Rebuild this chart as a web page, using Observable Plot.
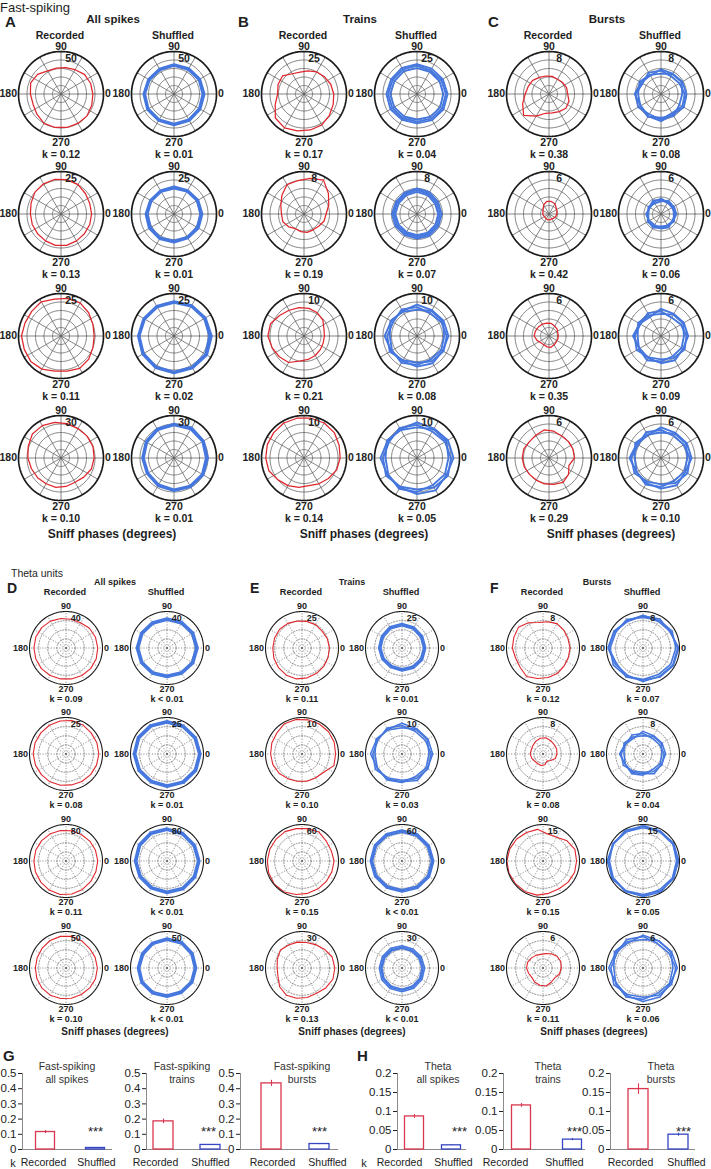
<!DOCTYPE html>
<html><head><meta charset="utf-8">
<script src="https://cdn.jsdelivr.net/npm/d3@7"></script>
<script src="https://cdn.jsdelivr.net/npm/@observablehq/plot@0.6"></script>
<style>
body{margin:0;background:#fff;}
#fig{position:relative;width:711px;height:1169px;overflow:hidden;font-family:"Liberation Sans",Arial,sans-serif;color:#1e1e1e;}
.lab{position:absolute;white-space:nowrap;line-height:1;}
</style></head><body><div id="fig"></div>
<script>
// ---------- DATA (radii relative to the outer ring, whose value is the ring label) ----------
// recorded: 18 bins, 0..340 deg step 20 ; shuffled: 3 traces x 12 bins, 0..330 step 30
const fsAllRing = [50, 25, 25, 30];
const fsTrainsRing = [25, 8, 10, 10];
const fsBurstsRing = [8, 6, 6, 6];
const thAllRing = [40, 25, 80, 50];
const thTrainsRing = [25, 10, 60, 30];
const thBurstsRing = [8, 8, 15, 6];

const fsAllKRecorded = ["= 0.12", "= 0.13", "= 0.11", "= 0.10"];
const fsAllKShuffled = ["= 0.01", "= 0.01", "= 0.02", "= 0.01"];
const fsTrainsKRecorded = ["= 0.17", "= 0.19", "= 0.21", "= 0.14"];
const fsTrainsKShuffled = ["= 0.04", "= 0.07", "= 0.08", "= 0.05"];
const fsBurstsKRecorded = ["= 0.38", "= 0.42", "= 0.35", "= 0.29"];
const fsBurstsKShuffled = ["= 0.08", "= 0.06", "= 0.09", "= 0.10"];
const thAllKRecorded = ["= 0.09", "= 0.08", "= 0.11", "= 0.10"];
const thAllKShuffled = ["< 0.01", "= 0.01", "< 0.01", "< 0.01"];
const thTrainsKRecorded = ["= 0.11", "= 0.10", "= 0.15", "= 0.13"];
const thTrainsKShuffled = ["= 0.01", "= 0.03", "< 0.01", "< 0.01"];
const thBurstsKRecorded = ["= 0.12", "= 0.08", "= 0.15", "= 0.11"];
const thBurstsKShuffled = ["= 0.07", "= 0.04", "= 0.05", "= 0.06"];

const fsAllRecorded = [
  [0.75,0.74,0.72,0.66,0.63,0.62,0.63,0.72,0.76,0.72,0.7,0.74,0.8,0.8,0.8,0.8,0.8,0.77],
  [0.72,0.72,0.75,0.8,0.82,0.83,0.82,0.8,0.75,0.72,0.72,0.72,0.73,0.75,0.75,0.73,0.72,0.72],
  [0.78,0.8,0.85,0.9,0.9,0.88,0.93,0.9,0.9,0.93,0.92,0.93,0.9,0.84,0.84,0.88,0.85,0.8],
  [0.78,0.8,0.8,0.8,0.82,0.85,0.88,0.88,0.82,0.78,0.74,0.72,0.7,0.7,0.68,0.66,0.7,0.76]];
const fsTrainsRecorded = [
  [0.7,0.67,0.63,0.6,0.55,0.52,0.55,0.66,0.65,0.62,0.72,0.88,0.92,0.88,0.86,0.84,0.78,0.73],
  [0.52,0.62,0.75,0.92,0.85,0.8,0.8,0.68,0.58,0.53,0.53,0.47,0.4,0.42,0.44,0.43,0.45,0.5],
  [0.48,0.5,0.58,0.63,0.66,0.68,0.7,0.75,0.84,0.85,0.8,0.76,0.72,0.6,0.56,0.53,0.5,0.48],
  [0.85,0.88,0.93,0.95,0.95,0.95,0.95,0.93,0.92,0.9,0.88,0.8,0.75,0.7,0.66,0.7,0.75,0.82]];
const fsBurstsRecorded = [
  [0.44,0.44,0.42,0.4,0.42,0.43,0.45,0.5,0.52,0.56,0.66,0.78,0.6,0.46,0.45,0.48,0.52,0.5],
  [0.18,0.2,0.22,0.28,0.3,0.3,0.25,0.18,0.15,0.15,0.13,0.12,0.13,0.14,0.14,0.13,0.15,0.17],
  [0.22,0.22,0.25,0.27,0.3,0.31,0.32,0.33,0.34,0.35,0.3,0.25,0.24,0.26,0.27,0.24,0.22,0.22],
  [0.6,0.6,0.6,0.6,0.64,0.67,0.62,0.6,0.63,0.63,0.62,0.6,0.6,0.62,0.63,0.66,0.6,0.5]];
const thAllRecorded = [
  [0.87,0.86,0.84,0.8,0.8,0.82,0.85,0.87,0.88,0.88,0.88,0.88,0.87,0.86,0.86,0.87,0.88,0.88],
  [0.9,0.9,0.9,0.92,0.93,0.92,0.91,0.9,0.9,0.9,0.89,0.88,0.88,0.87,0.86,0.87,0.88,0.89],
  [0.87,0.86,0.85,0.84,0.84,0.85,0.86,0.87,0.88,0.88,0.89,0.9,0.92,0.93,0.92,0.9,0.88,0.87],
  [0.86,0.85,0.84,0.86,0.88,0.88,0.87,0.85,0.84,0.84,0.85,0.86,0.86,0.85,0.84,0.84,0.85,0.86]];
const thTrainsRecorded = [
  [0.75,0.74,0.72,0.74,0.74,0.75,0.78,0.8,0.8,0.8,0.82,0.84,0.86,0.86,0.83,0.8,0.78,0.76],
  [0.92,0.94,0.95,0.95,0.95,0.96,0.96,0.9,0.88,0.86,0.85,0.82,0.78,0.76,0.76,0.75,0.78,0.93],
  [0.88,0.85,0.86,0.92,0.9,0.9,0.93,0.93,0.94,0.95,0.97,0.99,0.98,0.93,0.9,0.88,0.87,0.87],
  [0.9,0.88,0.8,0.74,0.71,0.72,0.73,0.77,0.72,0.68,0.7,0.8,0.86,0.84,0.82,0.8,0.85,0.9]];
const thBurstsRecorded = [
  [0.74,0.73,0.75,0.77,0.73,0.71,0.8,0.88,0.85,0.84,0.8,0.82,0.9,0.85,0.82,0.8,0.76,0.74],
  [0.38,0.4,0.4,0.42,0.45,0.44,0.4,0.36,0.34,0.35,0.33,0.3,0.3,0.32,0.3,0.22,0.28,0.36],
  [0.92,0.93,0.86,0.75,0.75,0.88,0.9,0.94,0.97,0.99,0.99,0.98,0.97,0.95,0.9,0.88,0.9,0.92],
  [0.5,0.52,0.5,0.45,0.4,0.38,0.4,0.42,0.45,0.45,0.42,0.4,0.45,0.48,0.5,0.45,0.42,0.48]];

const fsAllShuffled = [
  [[0.70,0.69,0.68,0.68,0.67,0.68,0.70,0.71,0.71,0.72,0.71,0.70],
   [0.67,0.67,0.66,0.66,0.65,0.66,0.68,0.69,0.69,0.70,0.69,0.68],
   [0.72,0.71,0.70,0.70,0.69,0.70,0.72,0.73,0.73,0.74,0.73,0.72]],
  [[0.65,0.64,0.63,0.62,0.62,0.63,0.65,0.66,0.66,0.65,0.64,0.65],
   [0.62,0.62,0.61,0.60,0.60,0.61,0.62,0.63,0.64,0.63,0.62,0.62],
   [0.67,0.66,0.65,0.65,0.64,0.65,0.67,0.68,0.68,0.67,0.66,0.67]],
  [[0.86,0.84,0.82,0.80,0.80,0.81,0.83,0.84,0.85,0.86,0.86,0.87],
   [0.83,0.82,0.80,0.78,0.78,0.79,0.81,0.82,0.83,0.84,0.84,0.85],
   [0.89,0.86,0.84,0.82,0.82,0.83,0.85,0.86,0.87,0.88,0.88,0.90]],
  [[0.78,0.79,0.80,0.79,0.78,0.75,0.73,0.72,0.74,0.76,0.77,0.78],
   [0.75,0.77,0.78,0.77,0.76,0.73,0.71,0.70,0.72,0.74,0.75,0.76],
   [0.80,0.81,0.83,0.81,0.80,0.77,0.75,0.74,0.76,0.78,0.79,0.80]]];
const fsTrainsShuffled = [
  [[0.68,0.66,0.64,0.66,0.67,0.66,0.68,0.67,0.66,0.65,0.67,0.68],
   [0.62,0.61,0.60,0.61,0.62,0.61,0.63,0.62,0.61,0.60,0.62,0.63],
   [0.72,0.70,0.69,0.70,0.71,0.70,0.72,0.72,0.70,0.69,0.71,0.72]],
  [[0.54,0.53,0.55,0.56,0.55,0.54,0.55,0.54,0.53,0.54,0.55,0.54],
   [0.50,0.49,0.51,0.52,0.51,0.50,0.51,0.50,0.49,0.50,0.51,0.50],
   [0.58,0.57,0.59,0.60,0.58,0.57,0.59,0.58,0.57,0.58,0.59,0.58]],
  [[0.70,0.66,0.62,0.68,0.72,0.65,0.70,0.74,0.66,0.63,0.69,0.72],
   [0.64,0.70,0.68,0.62,0.66,0.72,0.64,0.68,0.73,0.68,0.64,0.66],
   [0.74,0.72,0.70,0.74,0.68,0.70,0.76,0.70,0.68,0.72,0.74,0.70]],
  [[0.80,0.76,0.72,0.78,0.82,0.76,0.80,0.84,0.78,0.74,0.80,0.84],
   [0.74,0.80,0.78,0.72,0.76,0.82,0.74,0.78,0.84,0.80,0.74,0.76],
   [0.86,0.84,0.80,0.84,0.78,0.80,0.86,0.80,0.80,0.85,0.88,0.80]]];
const fsBurstsShuffled = [
  [[0.56,0.50,0.48,0.55,0.58,0.50,0.60,0.62,0.55,0.60,0.52,0.58],
   [0.50,0.56,0.54,0.48,0.52,0.58,0.54,0.56,0.62,0.56,0.60,0.50],
   [0.60,0.58,0.55,0.58,0.50,0.54,0.62,0.55,0.60,0.64,0.56,0.62]],
  [[0.34,0.30,0.32,0.36,0.33,0.30,0.35,0.32,0.30,0.34,0.36,0.31],
   [0.30,0.34,0.36,0.30,0.29,0.34,0.31,0.36,0.34,0.29,0.32,0.35],
   [0.36,0.35,0.30,0.33,0.37,0.32,0.30,0.34,0.37,0.33,0.30,0.33]],
  [[0.60,0.54,0.50,0.58,0.62,0.56,0.62,0.66,0.58,0.55,0.60,0.64],
   [0.54,0.60,0.58,0.52,0.56,0.62,0.55,0.60,0.66,0.60,0.55,0.56],
   [0.64,0.62,0.60,0.64,0.52,0.58,0.66,0.58,0.60,0.64,0.66,0.60]],
  [[0.68,0.62,0.60,0.66,0.70,0.62,0.70,0.72,0.64,0.62,0.68,0.72],
   [0.62,0.68,0.66,0.60,0.64,0.70,0.62,0.66,0.72,0.68,0.62,0.64],
   [0.72,0.70,0.68,0.72,0.62,0.66,0.74,0.66,0.68,0.72,0.74,0.66]]];
const thAllShuffled = [
  [[0.82,0.81,0.80,0.79,0.79,0.80,0.81,0.80,0.79,0.78,0.79,0.81],
   [0.79,0.78,0.77,0.76,0.76,0.77,0.78,0.77,0.76,0.75,0.76,0.78],
   [0.85,0.84,0.83,0.82,0.82,0.83,0.84,0.83,0.82,0.81,0.82,0.84]],
  [[0.90,0.89,0.88,0.88,0.89,0.90,0.89,0.88,0.87,0.88,0.89,0.90],
   [0.87,0.86,0.85,0.85,0.86,0.87,0.86,0.85,0.84,0.85,0.86,0.87],
   [0.93,0.92,0.91,0.91,0.92,0.93,0.92,0.91,0.90,0.91,0.92,0.93]],
  [[0.87,0.86,0.86,0.87,0.88,0.87,0.86,0.85,0.85,0.86,0.87,0.87],
   [0.84,0.83,0.83,0.84,0.85,0.84,0.83,0.82,0.82,0.83,0.84,0.84],
   [0.90,0.89,0.89,0.90,0.91,0.90,0.89,0.88,0.88,0.89,0.90,0.90]],
  [[0.78,0.79,0.80,0.79,0.78,0.77,0.78,0.79,0.78,0.77,0.77,0.78],
   [0.75,0.76,0.77,0.76,0.75,0.74,0.75,0.76,0.75,0.74,0.74,0.75],
   [0.81,0.82,0.83,0.82,0.81,0.80,0.81,0.82,0.81,0.80,0.80,0.81]]];
const thTrainsShuffled = [
  [[0.62,0.62,0.63,0.64,0.64,0.62,0.61,0.60,0.59,0.60,0.61,0.62],
   [0.59,0.59,0.60,0.61,0.61,0.59,0.58,0.57,0.56,0.57,0.58,0.59],
   [0.65,0.65,0.66,0.67,0.67,0.65,0.64,0.63,0.62,0.63,0.64,0.65]],
  [[0.80,0.74,0.72,0.78,0.82,0.76,0.80,0.84,0.76,0.72,0.78,0.82],
   [0.74,0.80,0.78,0.72,0.76,0.82,0.74,0.78,0.82,0.78,0.72,0.76],
   [0.84,0.82,0.80,0.84,0.78,0.80,0.86,0.78,0.80,0.76,0.84,0.80]],
  [[0.84,0.83,0.82,0.82,0.83,0.84,0.84,0.83,0.82,0.82,0.83,0.84],
   [0.81,0.80,0.79,0.79,0.80,0.81,0.81,0.80,0.79,0.79,0.80,0.81],
   [0.87,0.86,0.85,0.85,0.86,0.87,0.87,0.86,0.85,0.85,0.86,0.87]],
  [[0.58,0.57,0.56,0.57,0.58,0.58,0.58,0.60,0.61,0.61,0.60,0.59],
   [0.55,0.54,0.53,0.54,0.55,0.55,0.55,0.57,0.58,0.58,0.57,0.56],
   [0.62,0.61,0.60,0.61,0.62,0.62,0.62,0.64,0.65,0.65,0.64,0.63]]];
const thBurstsShuffled = [
  [[0.95,0.88,0.84,0.90,0.86,0.92,0.96,0.88,0.86,0.92,0.90,0.94],
   [0.90,0.92,0.88,0.84,0.90,0.86,0.90,0.94,0.90,0.86,0.84,0.88],
   [0.98,0.86,0.92,0.88,0.84,0.90,0.94,0.84,0.92,0.88,0.92,0.96]],
  [[0.58,0.52,0.50,0.56,0.60,0.54,0.60,0.62,0.54,0.50,0.56,0.60],
   [0.52,0.58,0.56,0.50,0.54,0.60,0.52,0.56,0.62,0.58,0.50,0.54],
   [0.62,0.60,0.58,0.62,0.50,0.56,0.64,0.56,0.58,0.54,0.62,0.58]],
  [[0.96,0.94,0.92,0.95,0.97,0.93,0.96,0.98,0.94,0.92,0.95,0.97],
   [0.92,0.95,0.94,0.91,0.93,0.96,0.92,0.94,0.97,0.95,0.91,0.93],
   [0.98,0.97,0.95,0.97,0.92,0.94,0.98,0.94,0.95,0.97,0.98,0.94]],
  [[0.90,0.82,0.78,0.86,0.90,0.82,0.88,0.92,0.84,0.80,0.86,0.90],
   [0.82,0.88,0.86,0.78,0.84,0.90,0.80,0.86,0.92,0.86,0.80,0.84],
   [0.94,0.90,0.86,0.90,0.80,0.86,0.94,0.84,0.88,0.92,0.92,0.86]]];

// bar charts (G, H)
const barCategories = ["Recorded", "Shuffled"];
const gAllSpikes = [0.115, 0.01],  gAllSpikesErr = [0.01, 0.002];
const gTrains    = [0.185, 0.03],  gTrainsErr    = [0.015, 0.003];
const gBursts    = [0.435, 0.036], gBurstsErr    = [0.02, 0.004];
const hAllSpikes = [0.087, 0.011], hAllSpikesErr = [0.005, 0.001];
const hTrains    = [0.116, 0.026], hTrainsErr    = [0.005, 0.003];
const hBursts    = [0.159, 0.039], hBurstsErr    = [0.014, 0.004];
const gTicks = [0, 0.1, 0.2, 0.3, 0.4, 0.5];
const hTicks = [0, 0.05, 0.1, 0.15, 0.2];

// ---------- RENDER ----------
const FONT = '"Liberation Sans", Arial, sans-serif';
const RED = "#e0262c", BLUE = "#4577de";
const BAR_RED = "#d9364f", BAR_BLUE = "#3546c2", AXIS = "#8a8a8a";
const fig = document.getElementById("fig");

function lab(text, x, y, size, weight, anchor = "middle", color = "#1e1e1e") {
  const d = document.createElement("div");
  d.className = "lab";
  d.textContent = text;
  d.style.left = x + "px"; d.style.top = y + "px";
  d.style.fontSize = size + "px"; d.style.fontWeight = weight; d.style.color = color;
  d.style.transform = anchor === "middle" ? "translate(-50%,-50%)" : anchor === "end" ? "translate(-100%,-50%)" : "translate(0,-50%)";
  fig.appendChild(d);
}

const TOP = {R: 42.5, rows: [93, 213, 335, 457], rings: [0.2, 0.4, 0.6, 0.8], dash: null, grid: "#5c5c5c",
  gridW: 0.75, outerW: 1.7, fs: 10.5, d90: -4.5, d270: 6.5, dk: 18.5, tick: [0.237, 0.83], recW: 1.25, shufW: 1.9};
const BOT = {R: 36.5, rows: [647, 753, 860, 967], rings: [0.25, 0.5, 0.75], dash: "1.2,1.6", grid: "#6e6e6e",
  gridW: 0.75, outerW: 1.1, fs: 9, d90: -5.5, d270: 4.5, dk: 15, tick: [0.27, 0.82], recW: 1.1, shufW: 1.6};

const rad = Math.PI / 180;
const px = d => d.r * Math.cos(d.a * rad), py = d => d.r * Math.sin(d.a * rad);

function polar(sec, cx, cy, series, isRec, ringLabel, kText) {
  const pad = 2, S = 2 * sec.R + 2 * pad;
  const ringPts = sec.rings.flatMap(f => d3.range(0, 361, 3).map(a => ({f, a, r: f})));
  const outerPts = d3.range(0, 361, 2).map(a => ({a, r: 1}));
  const spokes = d3.range(0, 360, 30);
  const txt = (s, x, y, o) => Plot.text([s], {x: () => x, y: () => y, text: d => d, fontSize: sec.fs,
    fontWeight: "bold", fill: "#222", ...o});
  const marks = [
    Plot.line(ringPts, {x: px, y: py, z: "f", stroke: sec.grid, strokeWidth: sec.gridW, strokeDasharray: sec.dash}),
    Plot.link(spokes, {x1: () => 0, y1: () => 0, x2: a => Math.cos(a * rad), y2: a => Math.sin(a * rad),
      stroke: sec.grid, strokeWidth: sec.gridW, strokeDasharray: sec.dash})
  ];
  if (isRec) {
    const pts = series.map((r, i) => ({a: i * 360 / series.length, r}));
    marks.push(Plot.line(pts, {x: px, y: py, curve: "linear-closed", stroke: RED, strokeWidth: sec.recW}));
  } else {
    const pts = series.flatMap((tr, t) => tr.map((r, i) => ({t, a: i * 360 / tr.length, r})));
    marks.push(Plot.line(pts, {x: px, y: py, z: "t", curve: "linear-closed", stroke: BLUE, strokeWidth: sec.shufW}));
  }
  marks.push(
    Plot.line(outerPts, {x: px, y: py, stroke: "#1a1a1a", strokeWidth: sec.outerW}),
    txt("90", 0, 1, {dy: sec.d90}),
    txt("270", 0, -1, {dy: sec.d270}),
    txt("180", -1, 0, {dx: -1.5, textAnchor: "end"}),
    txt("0", 1, 0, {dx: 1.5, textAnchor: "start"}),
    txt(String(ringLabel), sec.tick[0], sec.tick[1], {}),
    txt("k " + kText, 0, -1, {dy: sec.dk})
  );
  const svg = Plot.plot({
    width: S, height: S, margin: pad,
    x: {domain: [-1, 1], axis: null}, y: {domain: [-1, 1], axis: null},
    style: {position: "absolute", left: (cx - sec.R - pad) + "px", top: (cy - sec.R - pad) + "px",
      background: "none", overflow: "visible", fontFamily: FONT, maxWidth: "none"},
    marks
  });
  fig.appendChild(svg);
}

const panels = [
  {sec: TOP, cols: [60, 173], rec: fsAllRecorded, shuf: fsAllShuffled, ring: fsAllRing, kr: fsAllKRecorded, ks: fsAllKShuffled},
  {sec: TOP, cols: [303, 416], rec: fsTrainsRecorded, shuf: fsTrainsShuffled, ring: fsTrainsRing, kr: fsTrainsKRecorded, ks: fsTrainsKShuffled},
  {sec: TOP, cols: [548, 660], rec: fsBurstsRecorded, shuf: fsBurstsShuffled, ring: fsBurstsRing, kr: fsBurstsKRecorded, ks: fsBurstsKShuffled},
  {sec: BOT, cols: [65, 166], rec: thAllRecorded, shuf: thAllShuffled, ring: thAllRing, kr: thAllKRecorded, ks: thAllKShuffled},
  {sec: BOT, cols: [301, 401], rec: thTrainsRecorded, shuf: thTrainsShuffled, ring: thTrainsRing, kr: thTrainsKRecorded, ks: thTrainsKShuffled},
  {sec: BOT, cols: [542, 642], rec: thBurstsRecorded, shuf: thBurstsShuffled, ring: thBurstsRing, kr: thBurstsKRecorded, ks: thBurstsKShuffled}
];
for (const p of panels) {
  p.sec.rows.forEach((cy, i) => {
    polar(p.sec, p.cols[0], cy, p.rec[i], true, p.ring[i], p.kr[i]);
    polar(p.sec, p.cols[1], cy, p.shuf[i], false, p.ring[i], p.ks[i]);
  });
}

// headers, top section
lab("Fast-spiking", 0, 7, 13, 400, "start");
lab("A", 5, 21, 15, 700, "start"); lab("B", 238, 21, 15, 700, "start"); lab("C", 488, 21, 15, 700, "start");
lab("All spikes", 113, 20, 11.5, 700); lab("Trains", 360, 20, 11.5, 700); lab("Bursts", 607, 20, 11.5, 700);
panels.slice(0, 3).forEach(p => { lab("Recorded", p.cols[0], 35, 10.5, 700); lab("Shuffled", p.cols[1], 35, 10.5, 700); });
[112, 364, 611].forEach(x => lab("Sniff phases (degrees)", x, 534, 12, 700));
// bottom section
lab("Theta units", 11, 573, 10.5, 400, "start");
lab("D", 7, 588, 14, 700, "start"); lab("E", 250, 588, 14, 700, "start"); lab("F", 490, 588, 14, 700, "start");
lab("All spikes", 115, 582, 9, 700); lab("Trains", 352, 582, 9, 700); lab("Bursts", 597, 582, 9, 700);
panels.slice(3).forEach(p => { lab("Recorded", p.cols[0], 593, 9.2, 700); lab("Shuffled", p.cols[1], 593, 9.2, 700); });
[115, 352, 594].forEach(x => lab("Sniff phases (degrees)", x, 1032, 10, 700));

// ---------- bar charts ----------
const Y0 = 1149, YTOP = 1073;
function bars(b) {
  const s = b.c1 - b.c0;
  const lo = -(b.c0 - b.axis) / s, hi = (b.end - b.c0) / s, hw = b.bw / 2 / s;
  const mL = 36, mR = 2, mT = 3, mB = 22;
  const W = b.end - b.axis + mL + mR, H = (Y0 - YTOP) + mT + mB;
  const data = barCategories.map((cat, i) => ({cat, i, v: b.values[i], e: b.errors[i]}));
  const colors = [BAR_RED, BAR_BLUE];
  const marks = [
    Plot.ruleY([0], {stroke: AXIS, strokeWidth: 1}),
    Plot.ruleX([lo], {stroke: AXIS, strokeWidth: 1})
  ];
  data.forEach(d => {
    marks.push(Plot.rect([d], {x1: q => q.i - hw, x2: q => q.i + hw, y1: () => 0, y2: q => q.v,
      fill: "none", stroke: colors[d.i], strokeWidth: 1.3}));
    marks.push(Plot.ruleX([d], {x: "i", y1: q => q.v - q.e, y2: q => q.v + q.e, stroke: colors[d.i], strokeWidth: 1.1}));
    marks.push(Plot.text([d], {x: "i", y: () => 0, dy: 13.5, dx: b.labelShift[d.i], text: "cat", fontSize: 10.5, fill: "#222"}));
  });
  marks.push(Plot.text([data[1]], {x: "i", y: () => 0, dy: -17.5, dx: b.starShift, text: () => "***", fontSize: 13, fill: "#222"}));
  const svg = Plot.plot({
    width: W, height: H, marginLeft: mL, marginRight: mR, marginTop: mT, marginBottom: mB,
    x: {domain: [lo, hi], axis: null},
    y: {domain: [0, b.max], ticks: b.ticks, tickFormat: d => String(d), tickSize: 4, tickPadding: 2, label: null},
    style: {position: "absolute", left: (b.axis - mL) + "px", top: (YTOP - mT) + "px", background: "none",
      overflow: "visible", fontFamily: FONT, fontSize: "11.5px", color: "#222", maxWidth: "none"},
    marks
  });
  fig.appendChild(svg);
  lab(b.title[0], b.tx, 1066, 10.5, 400, "middle", "#333");
  lab(b.title[1], b.tx, 1078.5, 10.5, 400, "middle", "#333");
}
bars({axis: 22, end: 112, c0: 45, c1: 95, bw: 19, values: gAllSpikes, errors: gAllSpikesErr, max: 0.5, ticks: gTicks,
  title: ["Fast-spiking", "all spikes"], tx: 67, labelShift: [-2, 1], starShift: 0});
bars({axis: 146, end: 228, c0: 163, c1: 210, bw: 20, values: gTrains, errors: gTrainsErr, max: 0.5, ticks: gTicks,
  title: ["Fast-spiking", "trains"], tx: 182, labelShift: [-8, 0], starShift: -2});
bars({axis: 240, end: 338, c0: 271, c1: 319, bw: 20, values: gBursts, errors: gBurstsErr, max: 0.5, ticks: gTicks,
  title: ["Fast-spiking", "bursts"], tx: 302, labelShift: [1, 8], starShift: 0});
bars({axis: 397, end: 466, c0: 414, c1: 451, bw: 19, values: hAllSpikes, errors: hAllSpikesErr, max: 0.2, ticks: hTicks,
  title: ["Theta", "all spikes"], tx: 438, labelShift: [-15, 2], starShift: 8});
bars({axis: 503, end: 585, c0: 521, c1: 572, bw: 19, values: hTrains, errors: hTrainsErr, max: 0.2, ticks: hTicks,
  title: ["Theta", "trains"], tx: 548, labelShift: [-16, -8], starShift: 2});
bars({axis: 610, end: 695, c0: 638, c1: 678, bw: 20, values: hBursts, errors: hBurstsErr, max: 0.2, ticks: hTicks,
  title: ["Theta", "bursts"], tx: 661, labelShift: [-8, 8], starShift: 5});
lab("G", 3, 1055, 15, 700, "start"); lab("H", 357, 1055, 15, 700, "start");
lab("k", 13, 1162.5, 11, 400); lab("k", 364, 1162.5, 11, 400);
</script></body></html>
